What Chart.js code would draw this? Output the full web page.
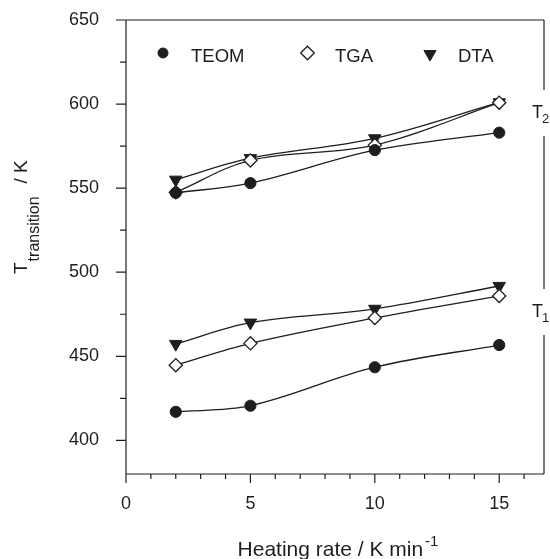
<!DOCTYPE html>
<html>
<head>
<meta charset="utf-8">
<script src="https://cdn.jsdelivr.net/npm/chart.js@4/dist/chart.umd.min.js"></script>
<style>
  html, body { margin: 0; padding: 0; background: #ffffff; }
  canvas { display: block; }
</style>
</head>
<body>
<canvas id="c" width="550" height="559"></canvas>
<script>
// ---- data ----
const heatingRates = [2, 5, 10, 15];           // K min^-1
const teomT1 = [417.0, 420.6, 443.5, 456.7];
const tgaT1  = [444.7, 457.7, 472.8, 485.9];
const dtaT1  = [457.3, 470.0, 478.2, 491.8];
const teomT2 = [547.2, 553.0, 572.6, 583.0];
const tgaT2  = [547.5, 566.5, 575.6, 600.8];
const dtaT2  = [555.0, 567.8, 579.6, 601.0];
const legendLabels = ['TEOM', 'TGA', 'DTA'];
const xTickLabels = [0, 5, 10, 15];
const yTickLabels = [400, 450, 500, 550, 600, 650];
const xTitle = 'Heating rate / K min';
const xTitleSup = '-1';
const yTitleMain = 'T';
const yTitleSub = 'transition';
const yTitleEnd = '/ K';
const groupLabels = [{ main: 'T', sub: '2', value: 595.3 }, { main: 'T', sub: '1', value: 477.0 }];

const FONT = '"Liberation Sans", Arial, Helvetica, sans-serif';
const INK = '#1e1e1e';
const AREA = { left: 126, top: 20, right: 544, bottom: 474 };

const pts = (ys) => heatingRates.map((x, i) => ({ x: x, y: ys[i] }));

const styles = {
  TEOM: { pointStyle: 'circle', pointRadius: 5.6, pointBackgroundColor: INK, pointBorderColor: INK, pointBorderWidth: 1, pointRotation: 0 },
  TGA:  { pointStyle: 'rectRot', pointRadius: 6.6, pointBackgroundColor: '#ffffff', pointBorderColor: INK, pointBorderWidth: 1.3, pointRotation: 0 },
  DTA:  { pointStyle: 'triangle', pointRadius: 7.2, pointBackgroundColor: INK, pointBorderColor: INK, pointBorderWidth: 1, pointRotation: 180 }
};

function ds(name, ys) {
  return Object.assign({
    label: name,
    data: pts(ys),
    showLine: true,
    borderColor: INK,
    borderWidth: 1.3,
    tension: 0.35,
    fill: false,
    pointHoverRadius: 6
  }, styles[name]);
}

const fixArea = {
  id: 'fixArea',
  afterLayout(chart) {
    const ca = chart.chartArea;
    ca.left = AREA.left; ca.top = AREA.top; ca.right = AREA.right; ca.bottom = AREA.bottom;
    ca.width = AREA.right - AREA.left; ca.height = AREA.bottom - AREA.top;
    const x = chart.scales.x, y = chart.scales.y;
    x.left = AREA.left; x.right = AREA.right; x.width = ca.width;
    x.top = AREA.bottom; x.bottom = chart.height; x.height = chart.height - AREA.bottom;
    y.left = 0; y.right = AREA.left; y.width = AREA.left;
    y.top = AREA.top; y.bottom = AREA.bottom; y.height = ca.height;
    x.configure(); y.configure();
    x._labelItems = null; y._labelItems = null;
  }
};

const decor = {
  id: 'decor',
  afterDatasetsDraw(chart) {
    const ctx = chart.ctx;
    const xs = chart.scales.x, ys = chart.scales.y;
    const a = chart.chartArea;
    ctx.save();
    ctx.strokeStyle = INK;
    ctx.fillStyle = INK;
    ctx.lineWidth = 1.2;
    // frame: top, left, bottom
    ctx.beginPath();
    ctx.moveTo(a.left, a.top); ctx.lineTo(a.right, a.top);
    ctx.moveTo(a.left, a.top); ctx.lineTo(a.left, a.bottom);
    ctx.moveTo(a.left, a.bottom); ctx.lineTo(a.right, a.bottom);
    ctx.stroke();
    // right edge broken around the group labels
    const gaps = groupLabels.map(g => {
      const yc = ys.getPixelForValue(g.value);
      return [yc - 22, yc + 24];
    }).sort((p, q) => p[0] - q[0]);
    let yStart = a.top;
    ctx.beginPath();
    gaps.forEach(g => { ctx.moveTo(a.right, yStart); ctx.lineTo(a.right, g[0]); yStart = g[1]; });
    ctx.moveTo(a.right, yStart); ctx.lineTo(a.right, a.bottom);
    ctx.stroke();
    // x ticks (major every 5, minor every 1)
    ctx.beginPath();
    for (let v = Math.ceil(xs.min); v <= xs.max; v++) {
      const px = xs.getPixelForValue(v);
      const len = (v % 5 === 0) ? 9 : 5;
      ctx.moveTo(px, a.bottom); ctx.lineTo(px, a.bottom + len);
    }
    // y ticks (major every 50, minor every 25)
    for (let v = Math.ceil(ys.min / 25) * 25; v <= ys.max; v += 25) {
      const py = ys.getPixelForValue(v);
      const len = (v % 50 === 0) ? 10 : 6;
      ctx.moveTo(a.left, py); ctx.lineTo(a.left - len, py);
    }
    ctx.stroke();

    // group labels T2 / T1
    groupLabels.forEach(g => {
      const yc = ys.getPixelForValue(g.value);
      ctx.font = '18px ' + FONT;
      ctx.textBaseline = 'alphabetic';
      ctx.textAlign = 'left';
      const x0 = a.right - 12;
      ctx.fillText(g.main, x0, yc + 6);
      const w = ctx.measureText(g.main).width;
      ctx.font = '13px ' + FONT;
      ctx.fillText(g.sub, x0 + w - 1, yc + 11);
    });

    // legend
    const legendY = 53;
    const items = [
      { name: 'TEOM', mx: 163, tx: 191 },
      { name: 'TGA',  mx: 307.5, tx: 335 },
      { name: 'DTA',  mx: 430, tx: 458 }
    ];
    items.forEach((it, i) => {
      const s = styles[legendLabels[i]];
      ctx.fillStyle = s.pointBackgroundColor;
      ctx.strokeStyle = s.pointBorderColor;
      ctx.lineWidth = s.pointBorderWidth;
      const r = it.name === 'TEOM' ? 5 : (it.name === 'TGA' ? 6.8 : 7);
      Chart.helpers.drawPoint(ctx, { pointStyle: s.pointStyle, radius: r, rotation: s.pointRotation, borderWidth: s.pointBorderWidth }, it.mx, legendY + (it.name === 'DTA' ? 1 : 0));
      ctx.fillStyle = INK;
      ctx.font = '18.5px ' + FONT;
      ctx.textBaseline = 'alphabetic';
      ctx.textAlign = 'left';
      ctx.fillText(legendLabels[i], it.tx, 61.5);
    });

    // x axis title with superscript
    ctx.fillStyle = INK;
    ctx.font = '21px ' + FONT;
    ctx.textAlign = 'left';
    ctx.textBaseline = 'alphabetic';
    const wMain = ctx.measureText(xTitle).width;
    ctx.font = '15px ' + FONT;
    const wSup = ctx.measureText(xTitleSup).width;
    const cx = (a.left + a.right) / 2 + 3;
    const startX = cx - (wMain + 2 + wSup) / 2;
    ctx.font = '21px ' + FONT;
    ctx.fillText(xTitle, startX, 556);
    ctx.font = '15px ' + FONT;
    ctx.fillText(xTitleSup, startX + wMain + 2, 546);

    // y axis title, rotated, with subscript
    ctx.save();
    ctx.translate(27, 274);
    ctx.rotate(-Math.PI / 2);
    ctx.font = '19px ' + FONT;
    ctx.fillText(yTitleMain, 0, 0);
    const wT = ctx.measureText(yTitleMain).width;
    ctx.font = '16px ' + FONT;
    ctx.fillText(yTitleSub, wT + 1, 12);
    const wS = ctx.measureText(yTitleSub).width;
    ctx.font = '19px ' + FONT;
    ctx.fillText(yTitleEnd, wT + 1 + wS + 13, 0);
    ctx.restore();

    ctx.restore();
  }
};

Chart.defaults.font.family = FONT;
Chart.defaults.color = INK;

new Chart(document.getElementById('c'), {
  type: 'scatter',
  data: {
    datasets: [
      ds('TEOM', teomT1), ds('TGA', tgaT1), ds('DTA', dtaT1),
      ds('TEOM', teomT2), ds('TGA', tgaT2), ds('DTA', dtaT2)
    ]
  },
  options: {
    responsive: false,
    animation: false,
    devicePixelRatio: 1,
    layout: { padding: { left: 0, right: 6, top: 20, bottom: 0 } },
    plugins: { legend: { display: false }, tooltip: { enabled: false }, title: { display: false } },
    scales: {
      x: {
        type: 'linear', min: 0, max: 16.8,
        grid: { display: false, drawTicks: false },
        border: { display: false },
        ticks: {
          stepSize: 5, includeBounds: false, padding: 19, maxRotation: 0,
          font: { size: 18 }, color: INK,
          callback: (v) => xTickLabels.includes(v) ? String(v) : ''
        },
        afterFit: (s) => { s.height = 85; }
      },
      y: {
        type: 'linear', min: 380, max: 650,
        grid: { display: false, drawTicks: false },
        border: { display: false },
        ticks: {
          stepSize: 50, includeBounds: false, padding: 27,
          font: { size: 18 }, color: INK,
          callback: (v) => yTickLabels.includes(v) ? String(v) : ''
        },
        afterFit: (s) => { s.width = 126; }
      }
    }
  },
  plugins: [fixArea, decor]
});
</script>
</body>
</html>
